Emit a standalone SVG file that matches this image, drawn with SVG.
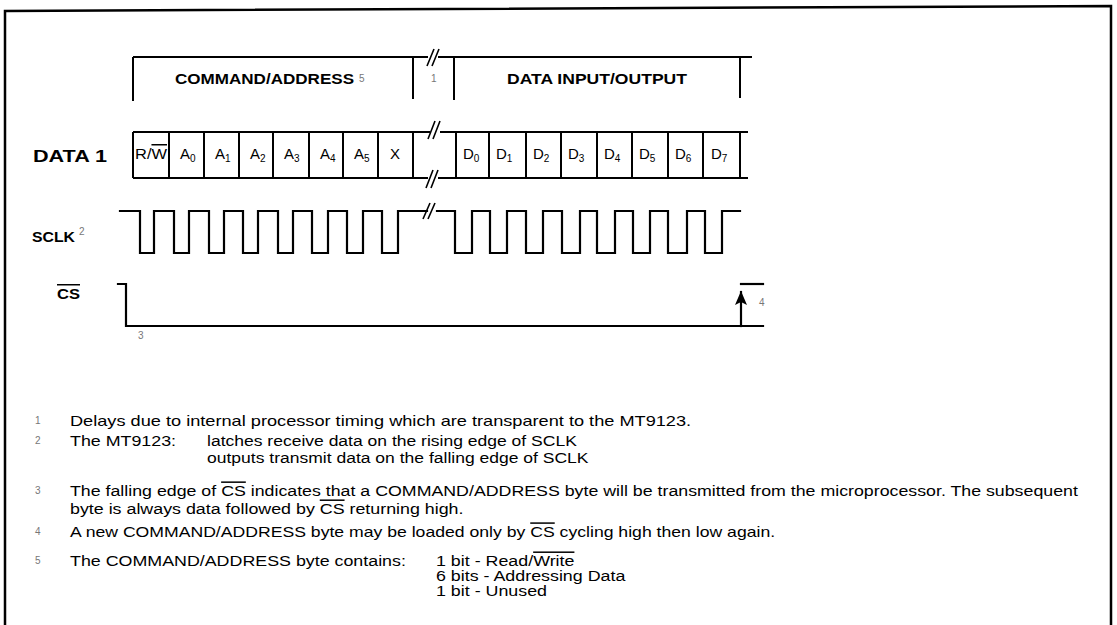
<svg xmlns="http://www.w3.org/2000/svg" width="1117" height="625" viewBox="0 0 1117 625">
<defs>
<style>
.frame{fill:none;stroke:#000;stroke-width:2.5}
.ln{fill:none;stroke:#000;stroke-width:2}
.wave{fill:none;stroke:#000;stroke-width:2.2;stroke-linejoin:miter;stroke-linecap:square}
.brk{fill:none;stroke:#000;stroke-width:1.6}
.lbl{font-family:"Liberation Sans",Arial,Helvetica,sans-serif;font-weight:bold;fill:#000}
.cell{font-family:"Liberation Sans",Arial,Helvetica,sans-serif;font-size:15px;fill:#000}
.sub{font-size:10px}
.note{font-family:"Liberation Sans",Arial,Helvetica,sans-serif;font-size:15px;fill:#000}
.mark{font-family:"Liberation Sans",Arial,Helvetica,sans-serif;font-size:10px;fill:#777}
.ov{text-decoration:overline}
</style>
<marker id="arr" viewBox="0 0 14 12" refX="13" refY="6" markerWidth="14" markerHeight="12" markerUnits="userSpaceOnUse" orient="auto">
<path d="M0,0 L14,6 L0,12 L3,6 Z" fill="#000"/>
</marker>
</defs>
<rect width="1117" height="625" fill="#fff"/>
<path class="frame" d="M5,625 L5,11 L1111,6 L1111,625"/>

<g id="header">
<path class="ln" d="M133,57 H428 M438,57 H752 M133,57 V101 M413,57 V99 M454,57 V100 M740,57 V98"/>
<path class="brk" d="M427,66 L434,49 M432,66 L439,49"/>
<text class="lbl" x="175" y="84" font-size="14" textLength="179" lengthAdjust="spacingAndGlyphs">COMMAND/ADDRESS</text>
<text class="mark" x="359" y="82">5</text>
<text class="mark" x="431" y="82">1</text>
<text class="lbl" x="507" y="84" font-size="14" textLength="180" lengthAdjust="spacingAndGlyphs">DATA INPUT/OUTPUT</text>
</g>

<g id="data1">
<text class="lbl" x="33" y="162" font-size="16" textLength="74" lengthAdjust="spacingAndGlyphs">DATA 1</text>
<path class="ln" d="M133,132 H430 M440,132 H748 M133,178 H428 M438,178 H748"/>
<path class="ln" d="M133,132 V178 M169,132 V178 M204,132 V178 M239,132 V178 M273,132 V178 M309,132 V178 M343,132 V178 M378,132 V178 M413,132 V178 M456,132 V178 M489,132 V178 M526,132 V178 M561,132 V178 M597,132 V178 M632,132 V178 M668,132 V178 M703,132 V178 M740,132 V178"/>
<path class="brk" d="M428,139 L435,121 M433,139 L440,121 M426,188 L433,170 M431,188 L438,170"/>
<text class="cell" x="135" y="159" font-size="13" textLength="32" lengthAdjust="spacingAndGlyphs">R/<tspan class="ov">W</tspan></text>
<text class="cell" x="180" y="159">A<tspan class="sub" dy="3">0</tspan></text>
<text class="cell" x="215" y="159">A<tspan class="sub" dy="3">1</tspan></text>
<text class="cell" x="250" y="159">A<tspan class="sub" dy="3">2</tspan></text>
<text class="cell" x="284" y="159">A<tspan class="sub" dy="3">3</tspan></text>
<text class="cell" x="320" y="159">A<tspan class="sub" dy="3">4</tspan></text>
<text class="cell" x="354" y="159">A<tspan class="sub" dy="3">5</tspan></text>
<text class="cell" x="390" y="159">X</text>
<text class="cell" x="463" y="159">D<tspan class="sub" dy="3">0</tspan></text>
<text class="cell" x="496" y="159">D<tspan class="sub" dy="3">1</tspan></text>
<text class="cell" x="533" y="159">D<tspan class="sub" dy="3">2</tspan></text>
<text class="cell" x="568" y="159">D<tspan class="sub" dy="3">3</tspan></text>
<text class="cell" x="604" y="159">D<tspan class="sub" dy="3">4</tspan></text>
<text class="cell" x="639" y="159">D<tspan class="sub" dy="3">5</tspan></text>
<text class="cell" x="675" y="159">D<tspan class="sub" dy="3">6</tspan></text>
<text class="cell" x="711" y="159">D<tspan class="sub" dy="3">7</tspan></text>
</g>

<g id="sclk">
<text class="lbl" x="32" y="242" font-size="15" textLength="43" lengthAdjust="spacingAndGlyphs">SCLK</text>
<text class="mark" x="79" y="235">2</text>
</g>

<g id="cs">
<text class="lbl" x="57" y="299" font-size="15" textLength="23" lengthAdjust="spacingAndGlyphs"><tspan class="ov">CS</tspan></text>
<text class="mark" x="138" y="339">3</text>
<text class="mark" x="759" y="306">4</text>
</g>

<g id="connectors">
<path class="wave" d="M120,211 H140 V253 H154 V211 H174 V253 H189 V211 H209 V253 H224 V211 H243 V253 H258 V211 H278 V253 H293 V211 H312 V253 H328 V211 H347 V253 H363 V211 H382 V253 H398 V211 H427"/>
<path class="wave" d="M437,211 H455 V253 H472 V211 H490 V253 H507 V211 H526 V253 H543 V211 H562 V253 H580 V211 H597 V253 H615 V211 H633 V253 H650 V211 H668 V253 H687 V211 H705 V253 H722 V211 H740"/>
<path class="brk" d="M423,219 L430,203 M428,219 L435,203"/>
<path class="wave" d="M118,284 H126 V326 H763"/>
<path class="wave" d="M741,326 V292" marker-end="url(#arr)"/>
<path class="wave" d="M741,284 H763"/>
</g>

<g id="notes">
<text class="mark" x="35" y="424">1</text>
<text class="note" transform="translate(70 426) scale(1.212 1)">Delays due to internal processor timing which are transparent to the MT9123.</text>
<text class="mark" x="35" y="444">2</text>
<text class="note" transform="translate(70 446) scale(1.19 1)">The MT9123:</text>
<text class="note" transform="translate(207 446) scale(1.168 1)">latches receive data on the rising edge of SCLK</text>
<text class="note" transform="translate(207 463) scale(1.168 1)">outputs transmit data on the falling edge of SCLK</text>
<text class="mark" x="35" y="494">3</text>
<text class="note" transform="translate(70 496) scale(1.185 1)">The falling edge of <tspan class="ov">CS</tspan> indicates that a COMMAND/ADDRESS byte will be transmitted from the microprocessor. The subsequent</text>
<text class="note" transform="translate(70 514) scale(1.19 1)">byte is always data followed by <tspan class="ov">CS</tspan> returning high.</text>
<text class="mark" x="35" y="535">4</text>
<text class="note" transform="translate(70 537) scale(1.175 1)">A new COMMAND/ADDRESS byte may be loaded only by <tspan class="ov">CS</tspan> cycling high then low again.</text>
<text class="mark" x="35" y="564">5</text>
<text class="note" transform="translate(70 566) scale(1.19 1)">The COMMAND/ADDRESS byte contains:</text>
<text class="note" transform="translate(436 566) scale(1.19 1)">1 bit - Read/<tspan class="ov">Write</tspan></text>
<text class="note" transform="translate(436 581) scale(1.19 1)">6 bits - Addressing Data</text>
<text class="note" transform="translate(436 596) scale(1.19 1)">1 bit - Unused</text>
</g>
</svg>
